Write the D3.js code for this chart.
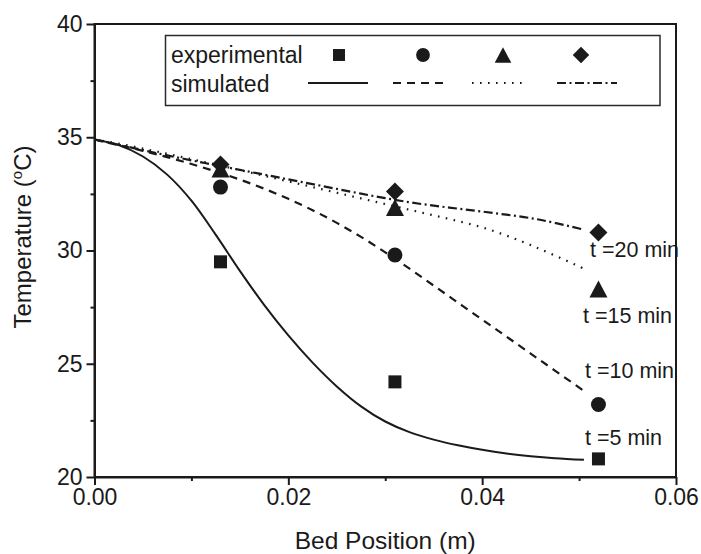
<!DOCTYPE html>
<html>
<head>
<meta charset="utf-8">
<script src="https://cdn.jsdelivr.net/npm/d3@7"></script>
<style>
  html, body { margin: 0; padding: 0; background: #fff; }
  svg { display: block; }
  text { font-family: "Liberation Sans", Arial, sans-serif; fill: #1a1a1a; }
</style>
</head>
<body>
<svg id="chart" width="701" height="554"></svg>
<script>
// ---------- data ----------
const expX = [0.013, 0.031, 0.052];
const exp5  = [29.5, 24.2, 20.8];
const exp10 = [32.8, 29.8, 23.2];
const exp15 = [33.6, 31.9, 28.3];
const exp20 = [33.8, 32.6, 30.8];

const simX = [0, 0.0025, 0.005, 0.0075, 0.01, 0.0125, 0.015, 0.0175, 0.02, 0.0225, 0.025,
              0.0275, 0.03, 0.0325, 0.035, 0.0375, 0.04, 0.0425, 0.045, 0.0475, 0.0505];
const sim5  = [34.9, 34.65, 34.15, 33.35, 32.2, 30.7, 29.1, 27.6, 26.25, 25.05, 24.0,
               23.12, 22.45, 21.98, 21.65, 21.4, 21.2, 21.04, 20.92, 20.83, 20.76];
const sim10 = [34.9, 34.65, 34.4, 34.12, 33.82, 33.49, 33.13, 32.73, 32.28, 31.78, 31.22,
               30.6, 29.92, 29.2, 28.45, 27.7, 26.95, 26.2, 25.45, 24.7, 23.8];
const sim15 = [34.9, 34.72, 34.5, 34.27, 34.03, 33.8, 33.55, 33.3, 33.05, 32.8, 32.55,
               32.3, 32.05, 31.8, 31.55, 31.3, 31.02, 30.66, 30.24, 29.78, 29.2];
const sim20 = [34.9, 34.67, 34.43, 34.2, 33.98, 33.77, 33.56, 33.35, 33.14, 32.93, 32.72,
               32.51, 32.31, 32.13, 31.98, 31.85, 31.72, 31.58, 31.43, 31.22, 30.92];

const xTicks = [0, 0.02, 0.04, 0.06];
const xMinor = [0.01, 0.03, 0.05];
const yTicks = [20, 25, 30, 35, 40];
const yMinor = [22.5, 27.5, 32.5, 37.5];
const seriesLabels = ["t =5 min", "t =10 min", "t =15 min", "t =20 min"];
const legendTitles = ["experimental", "simulated"];

// ---------- layout ----------
const svg = d3.select("#chart");
const L = 94.5, R = 676, T = 24, B = 477;
const x = d3.scaleLinear().domain([0, 0.06]).range([L, R]);
const y = d3.scaleLinear().domain([20, 40]).range([B, T]);
const ink = "#1a1a1a";

const styles = [
  { dash: null,        shape: "square" },
  { dash: "8,6",       shape: "circle" },
  { dash: "1.6,6.4",   shape: "triangle" },
  { dash: "9,3.5,2,3.5", shape: "diamond" }
];
const sims = [sim5, sim10, sim15, sim20];
const exps = [exp5, exp10, exp15, exp20];

// frame
svg.append("rect").attr("x", L).attr("y", T).attr("width", R - L).attr("height", B - T)
  .attr("fill", "none").attr("stroke", ink).attr("stroke-width", 2);

// axes
const xAxis = d3.axisBottom(x).tickValues(xTicks).tickFormat(d3.format(".2f"))
  .tickSizeInner(8).tickSizeOuter(0).tickPadding(4);
const gx = svg.append("g").attr("transform", `translate(0,${B})`).call(xAxis);
gx.select(".domain").attr("stroke", ink).attr("stroke-width", 2);
gx.selectAll(".tick line").attr("stroke", ink).attr("stroke-width", 2);
gx.selectAll(".tick text").attr("font-size", 23).attr("font-family", "Liberation Sans, Arial, sans-serif").attr("fill", ink);

const gxm = svg.append("g").attr("transform", `translate(0,${B})`)
  .call(d3.axisBottom(x).tickValues(xMinor).tickFormat("").tickSizeInner(4).tickSizeOuter(0));
gxm.select(".domain").remove();
gxm.selectAll(".tick line").attr("stroke", ink).attr("stroke-width", 2);

const yAxis = d3.axisLeft(y).tickValues(yTicks).tickFormat(d3.format("d"))
  .tickSizeInner(8).tickSizeOuter(0).tickPadding(4);
const gy = svg.append("g").attr("transform", `translate(${L},0)`).call(yAxis);
gy.select(".domain").attr("stroke", ink).attr("stroke-width", 2);
gy.selectAll(".tick line").attr("stroke", ink).attr("stroke-width", 2);
gy.selectAll(".tick text").attr("font-size", 23).attr("font-family", "Liberation Sans, Arial, sans-serif").attr("fill", ink);

const gym = svg.append("g").attr("transform", `translate(${L},0)`)
  .call(d3.axisLeft(y).tickValues(yMinor).tickFormat("").tickSizeInner(4).tickSizeOuter(0));
gym.select(".domain").remove();
gym.selectAll(".tick line").attr("stroke", ink).attr("stroke-width", 2);

// axis titles
svg.append("text").attr("x", (L + R) / 2).attr("y", 549).attr("text-anchor", "middle")
  .attr("font-size", 24.5).text("Bed Position (m)");
const yt = svg.append("text").attr("transform", "translate(31,237) rotate(-90)")
  .attr("text-anchor", "middle").attr("font-size", 24);
yt.append("tspan").text("Temperature (");
yt.append("tspan").attr("font-size", 15).attr("dy", -9).text("o");
yt.append("tspan").attr("dy", 9).text("C)");

// simulated lines
const line = d3.line().x(d => x(d[0])).y(d => y(d[1])).curve(d3.curveCatmullRom.alpha(0.5));
sims.forEach((s, i) => {
  svg.append("path").datum(simX.map((xx, j) => [xx, s[j]]))
    .attr("d", line).attr("fill", "none").attr("stroke", ink)
    .attr("stroke-width", i === 0 ? 2 : 2.2)
    .attr("stroke-dasharray", styles[i].dash);
});

// markers
function drawMarker(g, shape, cx, cy, scale) {
  scale = scale || 1;
  if (shape === "square") {
    const s = 13 * scale;
    g.append("rect").attr("x", cx - s / 2).attr("y", cy - s / 2).attr("width", s).attr("height", s).attr("fill", ink);
  } else if (shape === "circle") {
    g.append("circle").attr("cx", cx).attr("cy", cy).attr("r", 7.5 * scale).attr("fill", ink);
  } else if (shape === "triangle") {
    const w = 9 * scale, h = 8.5 * scale;
    g.append("path").attr("d", `M${cx},${cy - h}L${cx + w},${cy + h}L${cx - w},${cy + h}Z`).attr("fill", ink);
  } else {
    const r = 9 * scale;
    g.append("path").attr("d", `M${cx},${cy - r}L${cx + r},${cy}L${cx},${cy + r}L${cx - r},${cy}Z`).attr("fill", ink);
  }
}
const gm = svg.append("g");
exps.forEach((e, i) => {
  e.forEach((v, j) => drawMarker(gm, styles[i].shape, x(expX[j]), y(v)));
});

// series labels (placed near the end of each curve)
const labelPos = [[585, 445], [585, 378], [583, 323], [590, 257]];
seriesLabels.forEach((t, i) => {
  svg.append("text").attr("x", labelPos[i][0]).attr("y", labelPos[i][1])
    .attr("font-size", 21.5).text(t);
});

// legend
const lg = svg.append("g");
lg.append("rect").attr("x", 165.5).attr("y", 35.5).attr("width", 494.5).attr("height", 70)
  .attr("fill", "none").attr("stroke", "#2a2a2a").attr("stroke-width", 1.5);
lg.append("text").attr("x", 171).attr("y", 63).attr("font-size", 23).text(legendTitles[0]);
lg.append("text").attr("x", 171).attr("y", 92).attr("font-size", 23).text(legendTitles[1]);
const legMarkX = [339, 423, 503, 581];
const legLine = [[308, 368], [393, 447], [472, 528], [557, 617]];
styles.forEach((s, i) => {
  drawMarker(lg, s.shape, legMarkX[i], 55, 0.92);
  lg.append("line").attr("x1", legLine[i][0]).attr("x2", legLine[i][1]).attr("y1", 83).attr("y2", 83)
    .attr("stroke", ink).attr("stroke-width", 2).attr("stroke-dasharray", s.dash);
});
</script>
</body>
</html>
